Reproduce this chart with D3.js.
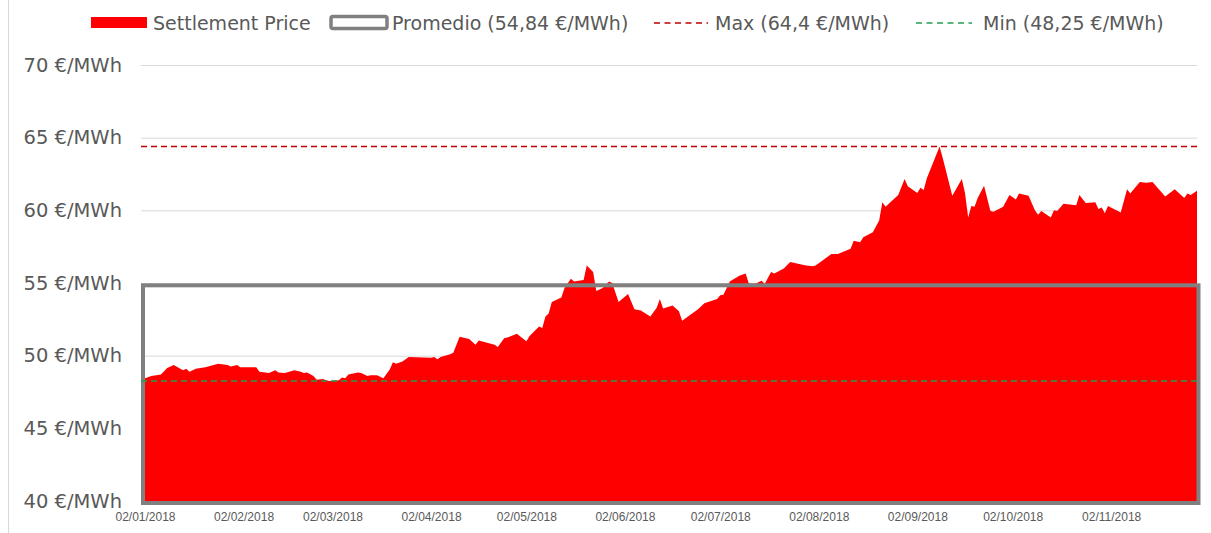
<!DOCTYPE html>
<html>
<head>
<meta charset="utf-8">
<script src="https://cdn.jsdelivr.net/npm/d3@7"></script>
<style>
  body { margin: 0; background: #fff; }
  .axis text { fill: #595959; }
</style>
</head>
<body>
<div id="chart"></div>
<script>
// settlement prices (EUR/MWh)
let dates = [
  '2018-01-02', '2018-01-04', '2018-01-07', '2018-01-09', '2018-01-11', '2018-01-14', '2018-01-15',
  '2018-01-16', '2018-01-18', '2018-01-21', '2018-01-25', '2018-01-28', '2018-01-29', '2018-01-31',
  '2018-02-01', '2018-02-06', '2018-02-07', '2018-02-10', '2018-02-12', '2018-02-13', '2018-02-15',
  '2018-02-18', '2018-02-20', '2018-02-21', '2018-02-22', '2018-02-24', '2018-02-25', '2018-02-27',
  '2018-02-28', '2018-03-01', '2018-03-04', '2018-03-05', '2018-03-06', '2018-03-07', '2018-03-10',
  '2018-03-11', '2018-03-13', '2018-03-14', '2018-03-16', '2018-03-18', '2018-03-20', '2018-03-21',
  '2018-03-22', '2018-03-24', '2018-03-26', '2018-04-02', '2018-04-03', '2018-04-04', '2018-04-05',
  '2018-04-08', '2018-04-09', '2018-04-11', '2018-04-14', '2018-04-16', '2018-04-17', '2018-04-22',
  '2018-04-23', '2018-04-25', '2018-04-26', '2018-04-29', '2018-05-02', '2018-05-03', '2018-05-06',
  '2018-05-07', '2018-05-08', '2018-05-09', '2018-05-10', '2018-05-13', '2018-05-14', '2018-05-16',
  '2018-05-17', '2018-05-20', '2018-05-21', '2018-05-23', '2018-05-24', '2018-05-26', '2018-05-28',
  '2018-05-29', '2018-05-31', '2018-06-03', '2018-06-05', '2018-06-07', '2018-06-10', '2018-06-12',
  '2018-06-13', '2018-06-14', '2018-06-17', '2018-06-19', '2018-06-20', '2018-06-25', '2018-06-27',
  '2018-07-01', '2018-07-02', '2018-07-03', '2018-07-05', '2018-07-08', '2018-07-10', '2018-07-11',
  '2018-07-13', '2018-07-15', '2018-07-16', '2018-07-18', '2018-07-19', '2018-07-22', '2018-07-24',
  '2018-07-29', '2018-07-31', '2018-08-01', '2018-08-06', '2018-08-08', '2018-08-12', '2018-08-13',
  '2018-08-15', '2018-08-16', '2018-08-19', '2018-08-21', '2018-08-22', '2018-08-23', '2018-08-27',
  '2018-08-29', '2018-08-30', '2018-09-02', '2018-09-03', '2018-09-04', '2018-09-05', '2018-09-09',
  '2018-09-10', '2018-09-13', '2018-09-16', '2018-09-17', '2018-09-18', '2018-09-19', '2018-09-20',
  '2018-09-21', '2018-09-23', '2018-09-25', '2018-09-26', '2018-09-29', '2018-10-01', '2018-10-03',
  '2018-10-04', '2018-10-07', '2018-10-09', '2018-10-10', '2018-10-11', '2018-10-14', '2018-10-15',
  '2018-10-16', '2018-10-18', '2018-10-22', '2018-10-23', '2018-10-25', '2018-10-28', '2018-10-29',
  '2018-10-30', '2018-10-31', '2018-11-01', '2018-11-05', '2018-11-07', '2018-11-08', '2018-11-11',
  '2018-11-13', '2018-11-15', '2018-11-19', '2018-11-22', '2018-11-25', '2018-11-26', '2018-11-27',
  '2018-11-29'
]

let prices = [
  48.45, 48.6, 48.7, 49.15, 49.35, 49.0, 49.1,
  48.9, 49.1, 49.2, 49.45, 49.35, 49.25, 49.35,
  49.2, 49.2, 48.9, 48.8, 49.0, 48.85, 48.8,
  49.0, 48.9, 48.8, 48.85, 48.6, 48.35, 48.4,
  48.3, 48.25, 48.3, 48.5, 48.45, 48.7, 48.85,
  48.8, 48.6, 48.65, 48.65, 48.45, 49.05, 49.55,
  49.45, 49.6, 49.9, 49.85, 49.9, 49.75, 49.9,
  50.1, 50.2, 51.3, 51.15, 50.75, 51.05, 50.75,
  50.6, 51.2, 51.25, 51.5, 51.0, 51.35, 52.0,
  51.9, 52.7, 52.9, 53.7, 54.0, 54.65, 55.3,
  55.1, 55.2, 56.2, 55.75, 54.45, 54.65, 55.1,
  55.0, 53.7, 54.25, 53.2, 53.1, 52.7, 53.3,
  53.9, 53.25, 53.45, 53.05, 52.4, 53.2, 53.6,
  53.9, 54.15, 54.2, 55.1, 55.5, 55.65, 54.95,
  54.95, 55.15, 54.95, 55.75, 55.65, 56.0, 56.45,
  56.2, 56.15, 56.2, 57.0, 57.0, 57.35, 57.9,
  57.8, 58.15, 58.5, 59.3, 60.55, 60.25, 61.05,
  62.15, 61.65, 61.2, 61.55, 61.4, 62.2, 64.4,
  63.6, 61.0, 62.15, 61.2, 59.5, 60.3, 60.25,
  60.85, 61.7, 59.95, 59.9, 60.25, 61.05, 60.75,
  61.15, 61.0, 60.0, 59.7, 59.95, 59.5, 60.0,
  59.95, 60.45, 60.35, 61.05, 60.5, 60.55, 60.1,
  60.2, 59.8, 60.3, 59.85, 61.45, 61.15, 61.95,
  61.9, 61.95, 60.95, 61.45, 60.85, 61.15, 61.05,
  61.35
]

let avgPrice = 54.84
let maxPrice = 64.4
let minPrice = 48.25

let yTicks = [40, 45, 50, 55, 60, 65, 70]
let xTicks = [
  '2018-01-02', '2018-02-02', '2018-03-02', '2018-04-02', '2018-05-02', '2018-06-02',
  '2018-07-02', '2018-08-02', '2018-09-02', '2018-10-02', '2018-11-02'
]

let legendLabels = [
  'Settlement Price',
  'Promedio (54,84 €/MWh)',
  'Max (64,4 €/MWh)',
  'Min (48,25 €/MWh)'
]

let width = 1211
let height = 533
let margin = { top: 65, left: 145, right: 14, bottom: 32 }

let svg = d3
  .select('#chart')
  .append('svg')
  .attr('width', width)
  .attr('height', height)
  .style('font-family', "'DejaVu Sans', sans-serif")

let parseTime = d3.timeParse('%Y-%m-%d')
let datapoints = dates.map((d, i) => ({ date: parseTime(d), price: prices[i] }))

let xPositionScale = d3
  .scaleTime()
  .domain(d3.extent(datapoints, d => d.date))
  .range([margin.left, width - margin.right])

let yPositionScale = d3
  .scaleLinear()
  .domain([40, 70])
  .range([height - margin.bottom, margin.top])

// chart frame line on the left
svg
  .append('line')
  .attr('x1', 8.5)
  .attr('x2', 8.5)
  .attr('y1', 0)
  .attr('y2', height)
  .attr('stroke', '#d9d9d9')

// y axis + gridlines
let gridLeft = margin.left - 4
let yAxis = d3
  .axisLeft(yPositionScale)
  .tickValues(yTicks)
  .tickSize(-(width - margin.right - gridLeft))
  .tickPadding(19)
  .tickFormat(d => d + ' €/MWh')

svg
  .append('g')
  .attr('class', 'axis y-axis')
  .attr('transform', 'translate(' + gridLeft + ',0)')
  .call(yAxis)
  .call(g => g.select('.domain').remove())
  .call(g => g.selectAll('line').attr('stroke', '#d9d9d9'))
  .call(g => g.selectAll('.tick').filter(d => d === 40).select('line').remove())
  .call(g =>
    g
      .selectAll('text')
      .attr('font-size', 19.5)
      .attr('font-family', "'DejaVu Sans', sans-serif")
  )

// area
let area = d3
  .area()
  .x(d => xPositionScale(d.date))
  .y0(yPositionScale(40))
  .y1(d => yPositionScale(d.price))

svg
  .append('path')
  .datum(datapoints)
  .attr('d', area)
  .attr('fill', '#ff0000')

// promedio box
let first = datapoints[0].date
let last = datapoints[datapoints.length - 1].date
svg
  .append('rect')
  .attr('x', xPositionScale(first) - 2)
  .attr('y', yPositionScale(avgPrice))
  .attr('width', xPositionScale(last) - xPositionScale(first) + 3.5)
  .attr('height', yPositionScale(40) - yPositionScale(avgPrice) + 2)
  .attr('fill', 'none')
  .attr('stroke', '#808080')
  .attr('stroke-width', 4)

// max / min lines
svg
  .append('line')
  .attr('x1', gridLeft)
  .attr('x2', width - margin.right + 2)
  .attr('y1', yPositionScale(maxPrice))
  .attr('y2', yPositionScale(maxPrice))
  .attr('stroke', '#c00000')
  .attr('stroke-width', 1.5)
  .attr('stroke-dasharray', '6,4')

svg
  .append('line')
  .attr('x1', gridLeft)
  .attr('x2', width - margin.right + 2)
  .attr('y1', yPositionScale(minPrice))
  .attr('y2', yPositionScale(minPrice))
  .attr('stroke', '#20a050')
  .attr('stroke-width', 1.5)
  .attr('stroke-dasharray', '6,4')

// x axis
let xAxis = d3
  .axisBottom(xPositionScale)
  .tickValues(xTicks.map(parseTime))
  .tickSize(0)
  .tickFormat(d3.timeFormat('%d/%m/%Y'))

svg
  .append('g')
  .attr('class', 'axis x-axis')
  .attr('transform', 'translate(0,' + yPositionScale(40) + ')')
  .call(xAxis)
  .call(g => g.select('.domain').remove())
  .call(g =>
    g
      .selectAll('text')
      .attr('y', 20)
      .attr('dy', 0)
      .attr('font-size', 12)
      .attr('font-family', "'Liberation Sans', sans-serif")
  )

// legend
let legend = svg
  .append('g')
  .attr('class', 'legend')
  .attr('font-size', 19)
  .attr('fill', '#595959')

legend
  .append('rect')
  .attr('x', 91)
  .attr('y', 17)
  .attr('width', 56)
  .attr('height', 11)
  .attr('fill', '#ff0000')
legend.append('text').attr('x', 153).attr('y', 30).text(legendLabels[0])

legend
  .append('rect')
  .attr('x', 331)
  .attr('y', 16.5)
  .attr('width', 56)
  .attr('height', 12)
  .attr('rx', 2)
  .attr('fill', 'none')
  .attr('stroke', '#808080')
  .attr('stroke-width', 3.5)
legend.append('text').attr('x', 392).attr('y', 30).text(legendLabels[1])

legend
  .append('line')
  .attr('x1', 654)
  .attr('x2', 708)
  .attr('y1', 23)
  .attr('y2', 23)
  .attr('stroke', '#c00000')
  .attr('stroke-width', 1.5)
  .attr('stroke-dasharray', '6,4.5')
legend.append('text').attr('x', 715).attr('y', 30).text(legendLabels[2])

legend
  .append('line')
  .attr('x1', 916)
  .attr('x2', 972)
  .attr('y1', 23)
  .attr('y2', 23)
  .attr('stroke', '#20a050')
  .attr('stroke-width', 1.5)
  .attr('stroke-dasharray', '6,4.5')
legend.append('text').attr('x', 983).attr('y', 30).text(legendLabels[3])
</script>
</body>
</html>
